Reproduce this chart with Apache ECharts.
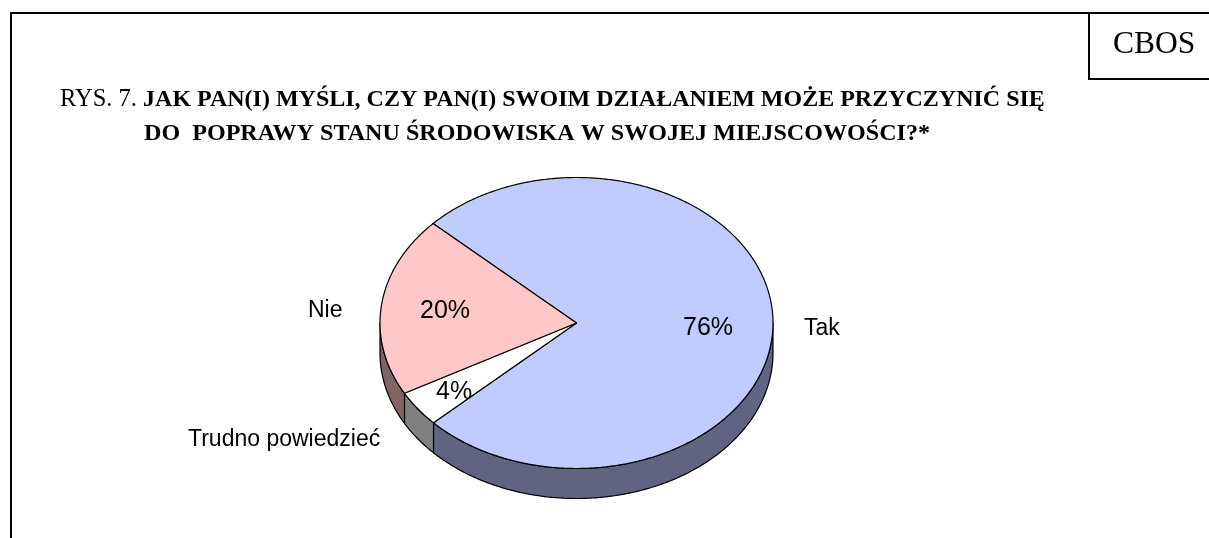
<!DOCTYPE html>
<html><head><meta charset="utf-8">
<style>html,body{margin:0;padding:0;background:#fff}#c{width:1209px;height:538px}</style>
<script src="https://cdn.jsdelivr.net/npm/echarts@6/dist/echarts.min.js"></script>
</head><body><div id="c"></div>
<script>
const categories = ['Tak', 'Trudno powiedzieć', 'Nie'];
const shares = [76, 4, 20];
const topColors = ['#C0CCFF', '#FFFFFF', '#FFC8C8'];
const sideColors = ['#606480', '#808080', '#806464'];
const titleLine1Regular = 'RYS. 7. ';
const titleLine1Bold = 'JAK PAN(I) MYŚLI, CZY PAN(I) SWOIM DZIAŁANIEM MOŻE PRZYCZYNIĆ SIĘ';
const titleLine2Bold = 'DO  POPRAWY STANU ŚRODOWISKA W SWOJEJ MIEJSCOWOŚCI?*';

// layout of the tilted pie
const cx = 576.5, cy = 323, rx = 196.5, ry = 145.5, depth = 30, startDeg = 313.1;
const nameAnchors = [[804, 329], [188, 440], [308, 311]];
const valueAnchors = [[683, 328], [436, 392], [420, 311]];

const pt = (deg, dy) => {
  const a = deg * Math.PI / 180;
  return [cx + rx * Math.sin(a), cy - ry * Math.cos(a) + (dy || 0)];
};
function arc(a0, a1, dy) {
  const out = [], n = Math.max(2, Math.ceil(Math.abs(a1 - a0) / 0.5));
  for (let i = 0; i <= n; i++) out.push(pt(a0 + (a1 - a0) * i / n, dy));
  return out;
}
const txt = (text, x, y, size) => ({
  type: 'text', z2: 10,
  style: { text, x, y, fill: '#000', font: size + 'px "Liberation Sans", Arial, sans-serif', textAlign: 'left', textVerticalAlign: 'middle' }
});
const stroke = { stroke: '#000', lineWidth: 1.2, lineJoin: 'round' };

function renderItem(params, api) {
  const i = params.dataIndex;
  let before = 0;
  for (let k = 0; k < i; k++) before += shares[k];
  const a0 = startDeg + before * 3.6, a1 = a0 + api.value(0) * 3.6;
  const children = [];
  // visible rim: the part of the slice on the lower half of the ellipse (90..270 clockwise from top, modulo 360)
  for (const off of [0, 360, 720]) {
    const s = Math.max(a0, 90 + off), e = Math.min(a1, 270 + off);
    if (e > s) {
      const front = arc(s, e, 0), back = arc(e, s, depth);
      children.push({ type: 'polygon', shape: { points: front.concat(back) },
        style: Object.assign({ fill: sideColors[i] }, stroke) });
    }
  }
  const top = [[cx, cy]].concat(arc(a0, a1, 0));
  children.push({ type: 'polygon', z2: 2, shape: { points: top },
    style: Object.assign({ fill: topColors[i] }, stroke) });
  children.push(txt(categories[i], nameAnchors[i][0], nameAnchors[i][1], 23));
  children.push(txt(api.value(0) + '%', valueAnchors[i][0], valueAnchors[i][1], 25));
  return { type: 'group', children };
}

const line = (x1, y1, x2, y2) => ({ type: 'line', shape: { x1, y1, x2, y2 }, style: { stroke: '#000', lineWidth: 2 } });
const serif = '"Liberation Serif", "Times New Roman", serif';

const chart = echarts.init(document.getElementById('c'), null, { renderer: 'canvas' });
chart.setOption({
  animation: false,
  backgroundColor: '#fff',
  tooltip: { show: false },
  graphic: [
    line(11, 12, 11, 538),
    line(10, 13, 1209, 13),
    line(1089, 12, 1089, 80),
    line(1088, 79, 1209, 79),
    { type: 'text', style: { text: 'CBOS', x: 1113, y: 45, fill: '#000', font: '31.5px ' + serif, textVerticalAlign: 'middle' } },
    { type: 'text', style: {
        x: 60, y: 100, textVerticalAlign: 'middle',
        text: '{r|' + titleLine1Regular + '}{b|' + titleLine1Bold + '}',
        rich: {
          r: { fill: '#000', font: '24.5px ' + serif },
          b: { fill: '#000', font: 'bold 24px ' + serif }
        } } },
    { type: 'text', style: { text: titleLine2Bold, x: 144, y: 134, fill: '#000', font: 'bold 24.1px ' + serif, textVerticalAlign: 'middle' } }
  ],
  series: [{
    type: 'custom',
    coordinateSystem: 'none',
    silent: true,
    renderItem,
    data: shares.map((v, i) => ({ name: categories[i], value: [v] }))
  }]
});
</script></body></html>
